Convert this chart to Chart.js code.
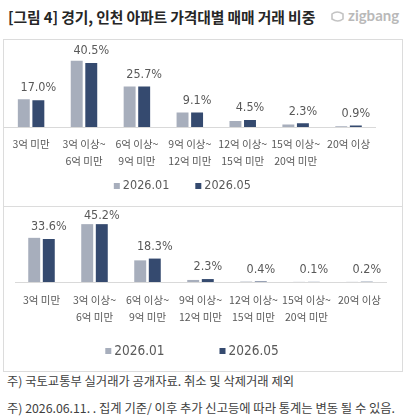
<!DOCTYPE html>
<html>
<head>
<meta charset="utf-8">
<script src="https://cdn.jsdelivr.net/npm/chart.js@4.4.0/dist/chart.umd.min.js"></script>
<style>
  body { margin: 0; background: #fff; width: 408px; height: 418px; position: relative; overflow: hidden; font-family: "Noto Sans CJK KR", sans-serif; }
  #title { position: absolute; left: 8px; top: 6px; font-size: 14.8px; font-weight: bold; color: #262626; white-space: nowrap; letter-spacing: -0.1px; }
  #logo { position: absolute; left: 330px; top: 6px; color: #b9b9b9; font-family: "Lato", sans-serif; font-size: 15px; font-weight: bold; white-space: nowrap; }
  #logo svg { vertical-align: -2px; margin-right: 3px; }
  .box { position: absolute; border: 1px solid #dcdcdc; box-sizing: border-box; }
  .wrap { position: absolute; }
  .note { position: absolute; left: 7px; font-size: 12.3px; color: #404040; white-space: nowrap; }
</style>
</head>
<body>
<div id="title">[그림 4] 경기, 인천 아파트 가격대별 매매 거래 비중</div>
<div id="logo"><svg width="15" height="13" viewBox="0 0 15 13"><path d="M2 4 Q7 0 13 4 L13 9 Q8 13 2 9 Z" fill="none" stroke="#c4c4c4" stroke-width="1.6"/></svg>zigbang</div>

<div class="box" style="left:3px; top:39px; width:400px; height:168px;"></div>
<div class="box" style="left:3px; top:206px; width:400px; height:166px;"></div>

<div class="wrap" style="left:4px; top:41px; width:397px; height:164px;"><canvas id="c1"></canvas></div>
<div class="wrap" style="left:4px; top:207px; width:397px; height:164px;"><canvas id="c2"></canvas></div>

<div class="note" style="top:372px;">주) 국토교통부 실거래가 공개자료. 취소 및 삭제거래 제외</div>
<div class="note" style="top:399px;">주) 2026.06.11. . 집계 기준/ 이후 추가 신고등에 따라 통계는 변동 될 수 있음.</div>

<script>
const categories = [
  ["3억 미만"],
  ["3억 이상~", "6억 미만"],
  ["6억 이상~", "9억 미만"],
  ["9억 이상~", "12억 미만"],
  ["12억 이상~", "15억 미만"],
  ["15억 이상~", "20억 미만"],
  ["20억 이상"]
];
const seriesNames = ["2026.01", "2026.05"];

// 경기
const gyeonggi2601 = [17.5, 42.0, 25.7, 9.1, 3.8, 1.6, 0.5];
const gyeonggi2605 = [17.0, 40.5, 25.7, 9.1, 4.5, 2.3, 0.9];
// 인천
const incheon2601 = [34.5, 45.2, 16.9, 1.6, 0.3, 0.1, 0.1];
const incheon2605 = [33.6, 45.2, 18.3, 2.3, 0.4, 0.1, 0.2];

const GREY = '#a7aebc';
const NAVY = '#354a6f';
const narrow = '"Liberation Sans Narrow", "DejaVu Sans Condensed", "Liberation Sans", sans-serif';

// 값 라벨: 2026.05 막대 위에만 표시
const valueLabels = {
  id: 'valueLabels',
  afterDatasetsDraw(chart) {
    const ctx = chart.ctx;
    const meta = chart.getDatasetMeta(1);
    const data = chart.data.datasets[1].data;
    ctx.save();
    ctx.font = '12.5px ' + narrow;
    ctx.fillStyle = '#595959';
    ctx.textAlign = 'center';
    ctx.textBaseline = 'middle';
    meta.data.forEach((bar, i) => {
      const y = Math.max(bar.y - 12, 9);
      ctx.fillText(data[i].toFixed(1) + '%', bar.x, y);
    });
    ctx.restore();
  }
};

// 범례: 직접 그림 (간격 맞추기)
const customLegend = {
  id: 'customLegend',
  afterDraw(chart, args, o) {
    const ctx = chart.ctx;
    ctx.save();
    ctx.font = o.size + 'px ' + narrow;
    ctx.textBaseline = 'middle';
    const items = chart.data.datasets.map(d => ({ text: d.label, color: d.backgroundColor, w: ctx.measureText(d.label).width }));
    const sq = 6, g = 3;
    let total = 0;
    items.forEach((it, i) => { total += sq + g + it.w + (i ? o.gap : 0); });
    let x = (chart.chartArea.left + chart.chartArea.right) / 2 + o.shift - total / 2;
    items.forEach(it => {
      ctx.fillStyle = it.color;
      ctx.fillRect(x, o.y - sq / 2, sq, sq);
      ctx.fillStyle = '#595959';
      ctx.fillText(it.text, x + sq + g, o.y);
      x += sq + g + it.w + o.gap;
    });
    ctx.restore();
  }
};

function makeChart(id, a, b, opt) {
  return new Chart(document.getElementById(id), {
    type: 'bar',
    data: {
      labels: categories,
      datasets: [
        { label: seriesNames[0], data: a, backgroundColor: GREY },
        { label: seriesNames[1], data: b, backgroundColor: NAVY }
      ]
    },
    options: {
      responsive: true,
      maintainAspectRatio: false,
      animation: false,
      datasets: { bar: { categoryPercentage: 0.55, barPercentage: 0.82 } },
      layout: { padding: opt.padding },
      plugins: {
        tooltip: { enabled: false },
        legend: { display: false },
        customLegend: opt.legend
      },
      scales: {
        x: {
          grid: { display: false, drawTicks: false },
          border: { display: true, color: '#d9d9d9', width: 1 },
          ticks: {
            padding: opt.tickPad,
            color: '#595959',
            font: { size: 10.5, family: '"Noto Sans CJK KR", sans-serif', lineHeight: 1.6 },
            maxRotation: 0, autoSkip: false
          },
          afterFit(scale) { scale.height = 46; }
        },
        y: { display: false, min: 0, max: 50 }
      }
    },
    plugins: [valueLabels, customLegend]
  });
}

makeChart('c1', gyeonggi2601, gyeonggi2605, {
  padding: { left: 0, right: 26, top: 7, bottom: 32 },
  tickPad: 8.5,
  legend: { y: 145, gap: 26, shift: -7.5, size: 12.5 }
});
makeChart('c2', incheon2601, incheon2605, {
  padding: { left: 11, right: 15, top: 11, bottom: 43 },
  tickPad: 9.5,
  legend: { y: 144, gap: 55, shift: -8.5, size: 13.5 }
});
</script>
</body>
</html>
